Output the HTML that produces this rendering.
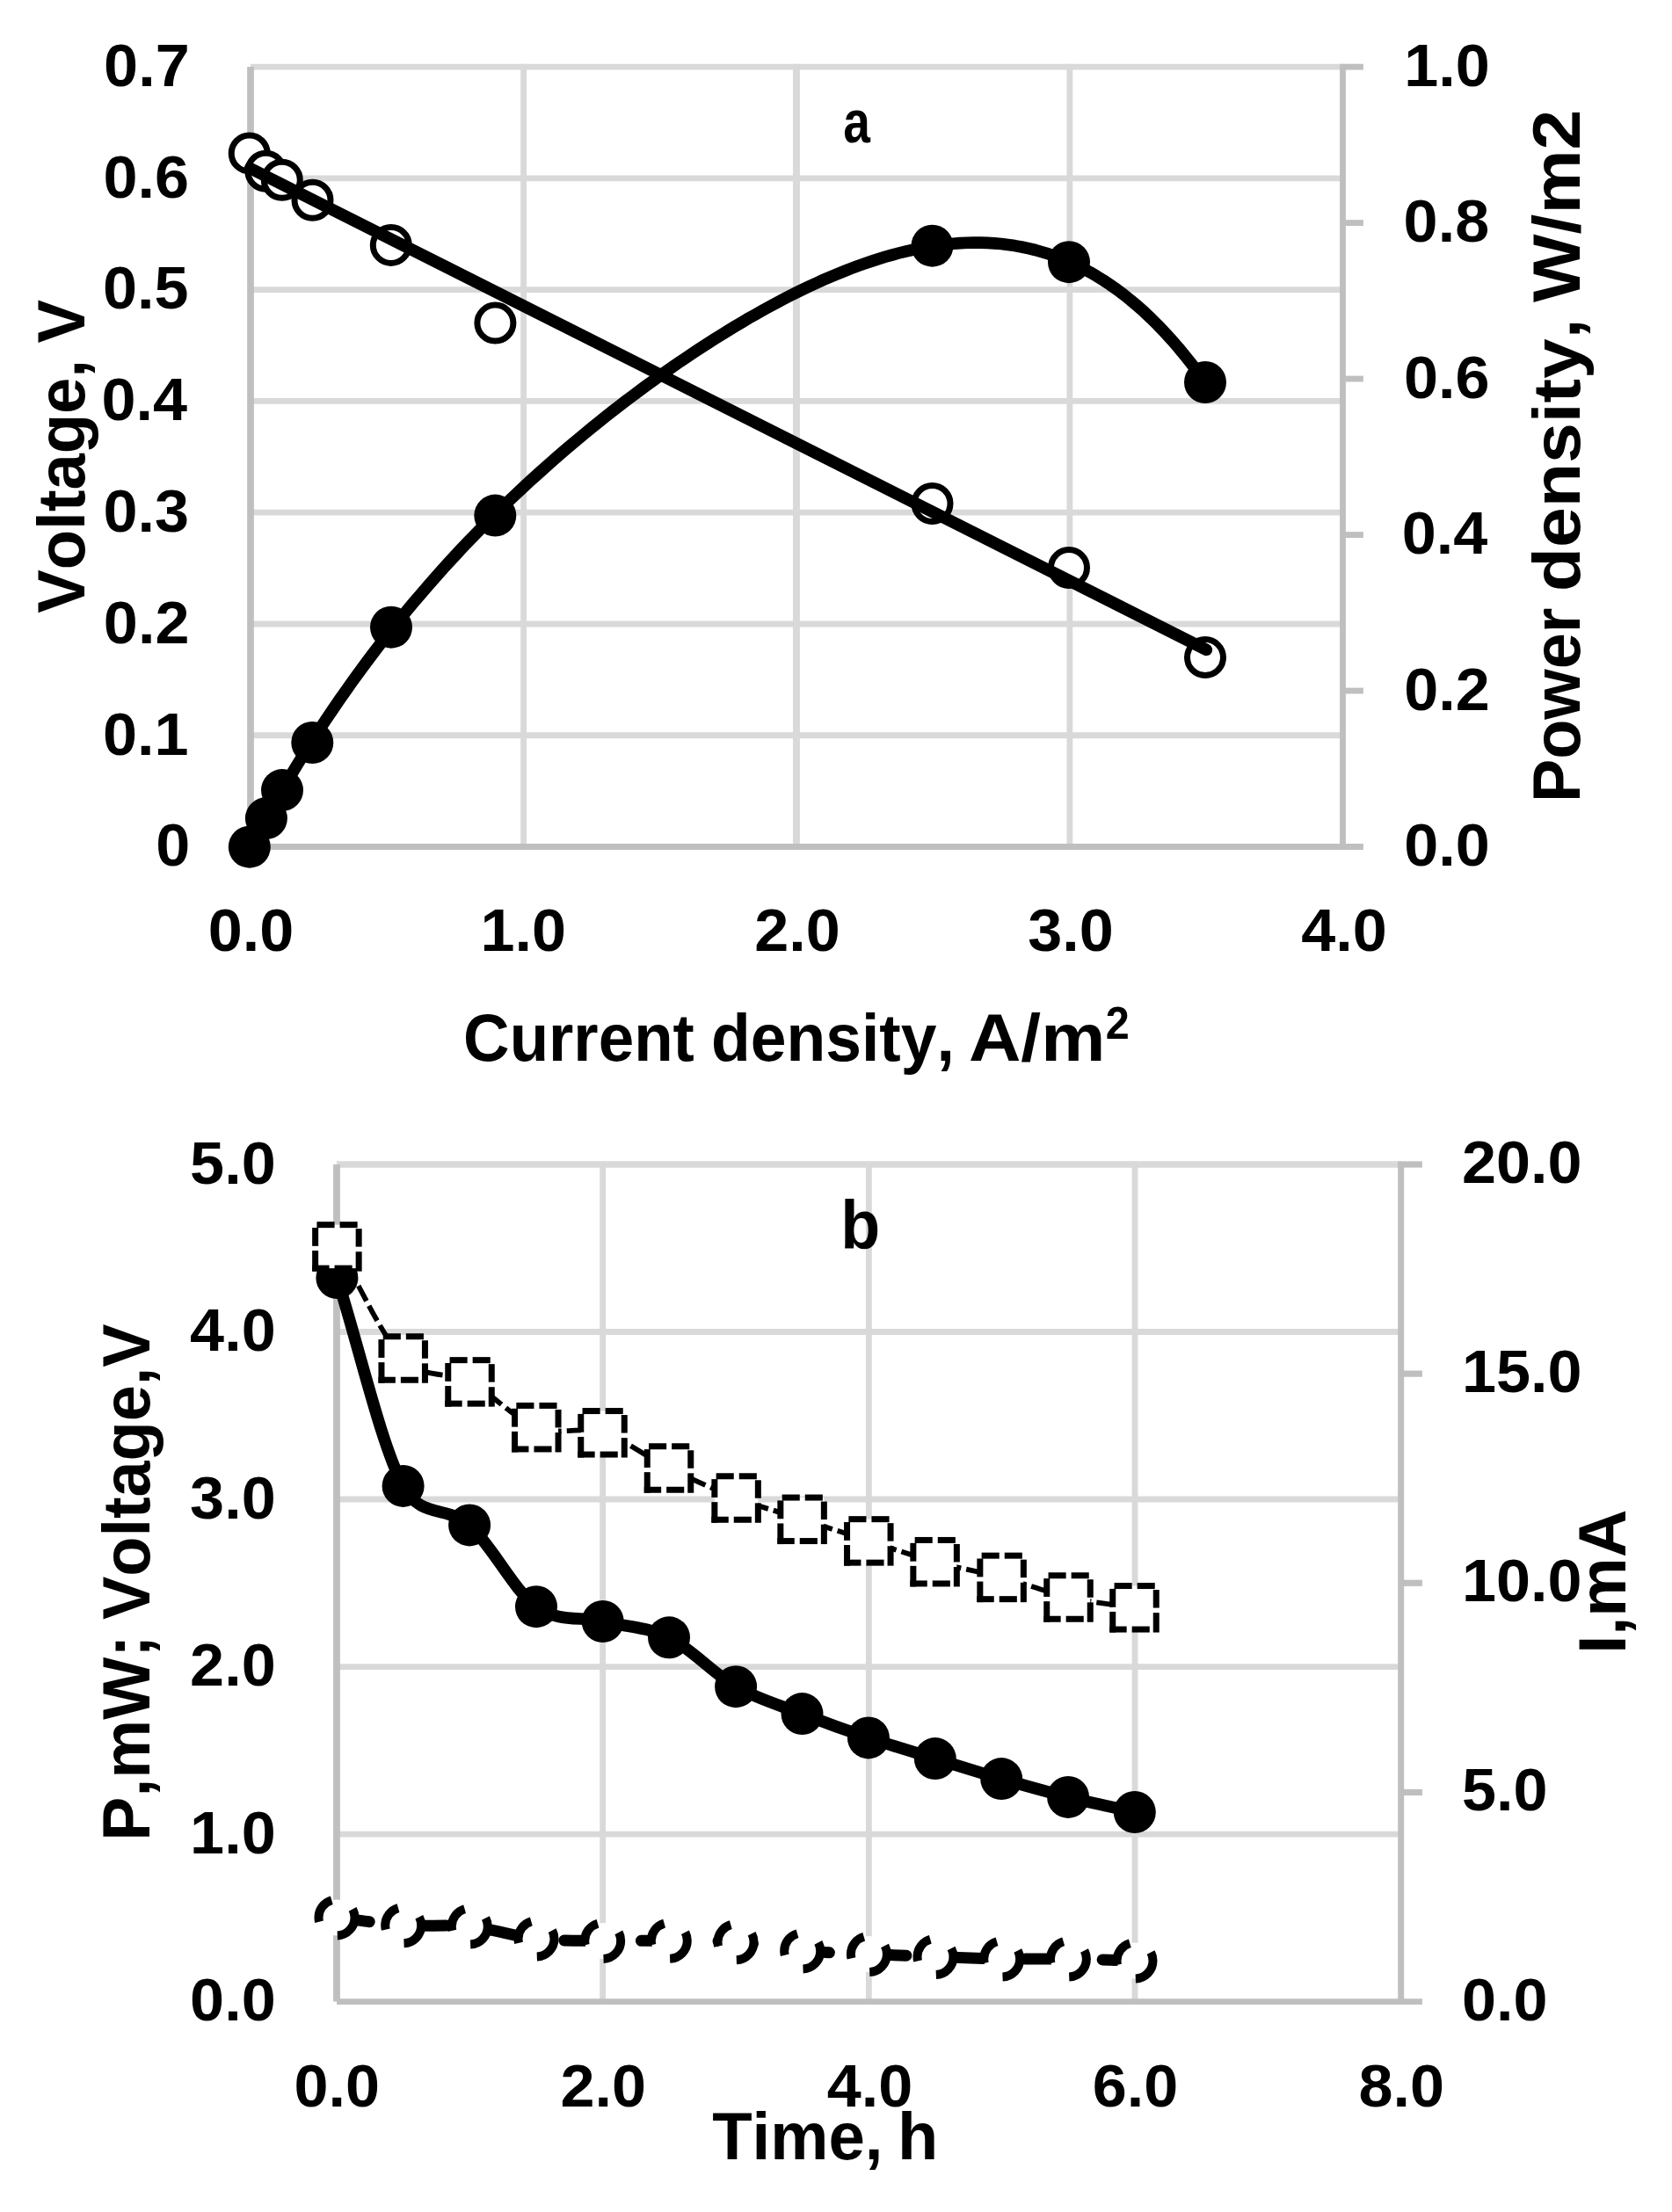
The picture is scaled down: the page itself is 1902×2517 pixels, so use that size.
<!DOCTYPE html>
<html><head><meta charset="utf-8"><title>Figure</title>
<style>html,body{margin:0;padding:0;background:#fff}svg{display:block}text{font-kerning:none;fill:#000}</style></head><body>
<svg width="1902" height="2517" viewBox="0 0 1902 2517" font-family="Liberation Sans, sans-serif" font-weight="bold">
<rect width="1902" height="2517" fill="#fff"/>
<g fill="none" stroke="#d9d9d9" stroke-width="6.84">
<path d="M285.00 836.73H1527.50"/>
<path d="M285.00 709.96H1527.50"/>
<path d="M285.00 583.19H1527.50"/>
<path d="M285.00 456.41H1527.50"/>
<path d="M285.00 329.64H1527.50"/>
<path d="M285.00 202.87H1527.50"/>
<path d="M285.00 76.10H1527.50"/>
<path d="M595.62 72.68V963.50" stroke-width="6.84"/>
<path d="M905.95 72.68V963.50" stroke-width="7.90"/>
<path d="M1216.88 72.68V963.50" stroke-width="6.84"/>
</g>
<g fill="none" stroke="#bfbfbf" stroke-width="6.84">
<path d="M285.00 76.10V963.50" stroke-width="7.7"/>
<path d="M285.00 963.50H1550.90"/>
<path d="M1527.50 76.10V963.50"/>
<path d="M1527.50 786.02H1550.90"/>
<path d="M1527.50 608.54H1550.90"/>
<path d="M1527.50 431.06H1550.90"/>
<path d="M1527.50 253.58H1550.90"/>
<path d="M1524.08 76.10H1550.90"/>
</g>
<path d="M285.0 963.0 L292.8 948.6 L300.5 934.5 L308.3 920.7 L316.0 907.2 L323.8 893.9 L331.6 880.9 L339.3 868.2 L347.1 855.7 L354.9 843.4 L362.6 831.4 L370.4 819.6 L378.1 808.1 L385.9 796.7 L393.7 785.6 L401.4 774.7 L409.2 763.9 L417.0 753.4 L424.7 743.1 L432.5 732.9 L440.2 722.9 L448.0 713.1 L455.8 703.5 L463.5 694.0 L471.3 684.7 L479.1 675.6 L486.8 666.6 L494.6 657.7 L502.3 649.0 L510.1 640.4 L517.9 632.0 L525.6 623.7 L533.4 615.5 L541.2 607.5 L548.9 599.5 L556.7 591.7 L564.4 584.0 L572.2 576.4 L580.0 568.9 L587.7 561.6 L595.5 554.3 L603.3 547.1 L611.0 540.1 L618.8 533.1 L626.5 526.2 L634.3 519.4 L642.1 512.7 L649.8 506.1 L657.6 499.6 L665.4 493.1 L673.1 486.8 L680.9 480.5 L688.6 474.3 L696.4 468.2 L704.2 462.2 L711.9 456.2 L719.7 450.3 L727.5 444.5 L735.2 438.8 L743.0 433.2 L750.7 427.6 L758.5 422.1 L766.3 416.7 L774.0 411.3 L781.8 406.1 L789.5 400.9 L797.3 395.8 L805.1 390.7 L812.8 385.8 L820.6 380.9 L828.4 376.1 L836.1 371.4 L843.9 366.8 L851.6 362.2 L859.4 357.8 L867.2 353.4 L874.9 349.1 L882.7 344.9 L890.5 340.8 L898.2 336.8 L906.0 332.9 L913.7 329.1 L921.5 325.4 L929.3 321.8 L937.0 318.3 L944.8 315.0 L952.6 311.7 L960.3 308.6 L968.1 305.5 L975.8 302.6 L983.6 299.9 L991.4 297.2 L999.1 294.7 L1006.9 292.3 L1014.7 290.1 L1022.4 288.0 L1030.2 286.1 L1037.9 284.3 L1045.7 282.7 L1053.5 281.3 L1061.2 280.0 L1069.0 278.9 L1076.8 277.9 L1084.5 277.2 L1092.3 276.6 L1100.0 276.3 L1107.8 276.1 L1115.6 276.1 L1123.3 276.4 L1131.1 276.9 L1138.9 277.5 L1146.6 278.5 L1154.4 279.6 L1162.1 281.0 L1169.9 282.7 L1177.7 284.5 L1185.4 286.7 L1193.2 289.1 L1201.0 291.8 L1208.7 294.8 L1216.5 298.1 L1224.2 301.6 L1232.0 305.5 L1239.8 309.7 L1247.5 314.2 L1255.3 319.0 L1263.0 324.1 L1270.8 329.6 L1278.6 335.5 L1286.3 341.7 L1294.1 348.3 L1301.9 355.2 L1309.6 362.5 L1317.4 370.3 L1325.1 378.4 L1332.9 386.9 L1340.7 395.9 L1348.4 405.3 L1356.2 415.1 L1364.0 425.4 L1371.7 436.1" fill="none" stroke="#000" stroke-width="13.6" stroke-linecap="round" stroke-linejoin="round"/>
<circle cx="283.8" cy="963.7" r="24" fill="#000"/>
<circle cx="302.9" cy="931.1" r="24" fill="#000"/>
<circle cx="321.0" cy="899.1" r="24" fill="#000"/>
<circle cx="355.3" cy="845.0" r="24" fill="#000"/>
<circle cx="445.0" cy="713.7" r="24" fill="#000"/>
<circle cx="563.3" cy="586.6" r="24" fill="#000"/>
<circle cx="1060.5" cy="279.7" r="24" fill="#000"/>
<circle cx="1216.0" cy="298.2" r="24" fill="#000"/>
<circle cx="1371.0" cy="435.0" r="24" fill="#000"/>
<circle cx="283.7" cy="174.4" r="20.5" fill="#fff" stroke="#000" stroke-width="7.0"/>
<circle cx="302.4" cy="194.7" r="20.5" fill="#fff" stroke="#000" stroke-width="7.0"/>
<circle cx="320.8" cy="204.7" r="20.5" fill="#fff" stroke="#000" stroke-width="7.0"/>
<circle cx="355.5" cy="227.8" r="20.5" fill="#fff" stroke="#000" stroke-width="7.0"/>
<circle cx="444.8" cy="278.9" r="20.5" fill="#fff" stroke="#000" stroke-width="7.0"/>
<circle cx="563.4" cy="367.6" r="20.5" fill="#fff" stroke="#000" stroke-width="7.0"/>
<circle cx="1060.5" cy="573.0" r="20.5" fill="#fff" stroke="#000" stroke-width="7.0"/>
<circle cx="1216.0" cy="646.0" r="20.5" fill="#fff" stroke="#000" stroke-width="7.0"/>
<circle cx="1371.0" cy="748.1" r="20.5" fill="#fff" stroke="#000" stroke-width="7.0"/>
<path d="M284.6 191.5L1372.3 739.3" fill="none" stroke="#000" stroke-width="13.7" stroke-linecap="round"/>
<text x="117.00" y="858.57" font-size="69.00" textLength="97.55" lengthAdjust="spacingAndGlyphs" >0.1</text>
<text x="117.86" y="731.80" font-size="69.00" textLength="97.55" lengthAdjust="spacingAndGlyphs" >0.2</text>
<text x="117.59" y="605.03" font-size="69.00" textLength="97.55" lengthAdjust="spacingAndGlyphs" >0.3</text>
<text x="115.43" y="478.26" font-size="69.00" textLength="97.55" lengthAdjust="spacingAndGlyphs" >0.4</text>
<text x="117.00" y="351.49" font-size="69.00" textLength="97.55" lengthAdjust="spacingAndGlyphs" >0.5</text>
<text x="117.59" y="224.71" font-size="69.00" textLength="97.55" lengthAdjust="spacingAndGlyphs" >0.6</text>
<text x="118.13" y="97.94" font-size="69.00" textLength="97.55" lengthAdjust="spacingAndGlyphs" >0.7</text>
<text x="177.25" y="985.24" font-size="69.00" textLength="39.03" lengthAdjust="spacingAndGlyphs" >0</text>
<text x="1597.33" y="985.34" font-size="69.00" textLength="97.55" lengthAdjust="spacingAndGlyphs" >0.0</text>
<text x="1597.26" y="807.86" font-size="69.00" textLength="97.55" lengthAdjust="spacingAndGlyphs" >0.2</text>
<text x="1594.83" y="630.38" font-size="69.00" textLength="97.55" lengthAdjust="spacingAndGlyphs" >0.4</text>
<text x="1596.99" y="452.90" font-size="69.00" textLength="97.55" lengthAdjust="spacingAndGlyphs" >0.6</text>
<text x="1596.61" y="275.42" font-size="69.00" textLength="97.55" lengthAdjust="spacingAndGlyphs" >0.8</text>
<text x="1597.33" y="97.94" font-size="69.00" textLength="97.55" lengthAdjust="spacingAndGlyphs" >1.0</text>
<text x="236.78" y="1082.14" font-size="69.00" textLength="97.55" lengthAdjust="spacingAndGlyphs" >0.0</text>
<text x="546.58" y="1082.14" font-size="69.00" textLength="97.55" lengthAdjust="spacingAndGlyphs" >1.0</text>
<text x="858.20" y="1082.14" font-size="69.00" textLength="97.55" lengthAdjust="spacingAndGlyphs" >2.0</text>
<text x="1169.23" y="1082.14" font-size="69.00" textLength="97.55" lengthAdjust="spacingAndGlyphs" >3.0</text>
<text x="1480.13" y="1082.14" font-size="69.00" textLength="97.55" lengthAdjust="spacingAndGlyphs" >4.0</text>
<text transform="translate(95.90 697.71) rotate(-90)" font-size="76.80" textLength="288.67" lengthAdjust="spacingAndGlyphs">Voltage,</text>
<text transform="translate(95.90 390.61) rotate(-90)" font-size="76.80" textLength="49.41" lengthAdjust="spacingAndGlyphs">V</text>
<text transform="translate(1797.40 912.94) rotate(-90)" font-size="76.80" textLength="221.45" lengthAdjust="spacingAndGlyphs">Power</text>
<text transform="translate(1797.40 673.37) rotate(-90)" font-size="76.80" textLength="310.88" lengthAdjust="spacingAndGlyphs">density,</text>
<text transform="translate(1797.40 344.08) rotate(-90)" font-size="76.80" textLength="219.37" lengthAdjust="spacingAndGlyphs">W/m2</text>
<text x="527.12" y="1207.00" font-size="76.80" textLength="262.67" lengthAdjust="spacingAndGlyphs" >Current</text>
<text x="808.89" y="1207.00" font-size="76.80" textLength="277.01" lengthAdjust="spacingAndGlyphs" >density,</text>
<text x="1101.95" y="1207.00" font-size="76.80" textLength="155.45" lengthAdjust="spacingAndGlyphs" >A/m</text>
<text x="1257.82" y="1181.90" font-size="51.40" textLength="27.03" lengthAdjust="spacingAndGlyphs" >2</text>
<text x="959.18" y="161.60" font-size="68.00" textLength="30.67" lengthAdjust="spacingAndGlyphs" >a</text>
<g fill="none" stroke="#d9d9d9" stroke-width="6.84">
<path d="M383.00 2087.08H1593.70"/>
<path d="M383.00 1896.56H1593.70"/>
<path d="M383.00 1706.04H1593.70"/>
<path d="M383.00 1515.52H1593.70"/>
<path d="M383.00 1325.00H1593.70" stroke-width="7.6"/>
<path d="M685.67 1321.58V2277.60"/>
<path d="M988.35 1321.58V2277.60"/>
<path d="M1291.03 1321.58V2277.60"/>
</g>
<g fill="none" stroke="#bfbfbf" stroke-width="6.84">
<path d="M383.00 1325.00V2277.60" stroke-width="7.8"/>
<path d="M383.00 2277.60H1617.90"/>
<path d="M1593.70 1325.00V2277.60" stroke-width="7.0"/>
<path d="M1593.70 2039.45H1617.90" stroke-width="7.2"/>
<path d="M1593.70 1801.30H1617.90" stroke-width="7.2"/>
<path d="M1593.70 1563.15H1617.90" stroke-width="7.2"/>
<path d="M1590.20 1325.00H1617.90" stroke-width="7.2"/>
</g>
<path d="M383.40 1454.00 C408.47 1532.97 433.48 1644.00 458.60 1690.90 C479.29 1729.53 508.87 1712.52 534.10 1735.40 C559.33 1758.28 584.73 1809.93 610.00 1828.20 C635.27 1846.47 660.53 1839.15 685.70 1845.00 C710.87 1850.85 735.77 1850.93 761.00 1863.30 C786.23 1875.67 811.85 1904.73 837.10 1919.20 C862.35 1933.67 887.37 1940.40 912.50 1950.10 C937.63 1959.80 962.68 1968.90 987.90 1977.40 C1013.12 1985.90 1038.58 1993.32 1063.80 2001.10 C1089.02 2008.88 1113.98 2016.80 1139.20 2024.10 C1164.42 2031.40 1189.83 2038.58 1215.10 2044.90 C1240.37 2051.22 1265.57 2056.30 1290.80 2062.00" fill="none" stroke="#000" stroke-width="13.6" stroke-linecap="round" stroke-linejoin="round"/>
<circle cx="383.4" cy="1454.0" r="24" fill="#000"/>
<circle cx="458.6" cy="1690.9" r="24" fill="#000"/>
<circle cx="534.1" cy="1735.4" r="24" fill="#000"/>
<circle cx="610.0" cy="1828.2" r="24" fill="#000"/>
<circle cx="685.7" cy="1845.0" r="24" fill="#000"/>
<circle cx="761.0" cy="1863.3" r="24" fill="#000"/>
<circle cx="837.1" cy="1919.2" r="24" fill="#000"/>
<circle cx="912.5" cy="1950.1" r="24" fill="#000"/>
<circle cx="987.9" cy="1977.4" r="24" fill="#000"/>
<circle cx="1063.8" cy="2001.1" r="24" fill="#000"/>
<circle cx="1139.2" cy="2024.1" r="24" fill="#000"/>
<circle cx="1215.1" cy="2044.9" r="24" fill="#000"/>
<circle cx="1290.8" cy="2062.0" r="24" fill="#000"/>
<path d="M383.00 2181.90 C408.22 2184.87 433.45 2189.12 458.67 2190.80 C483.89 2192.48 509.11 2189.45 534.34 2192.00 C559.56 2194.55 584.78 2203.37 610.01 2206.10 C635.23 2208.83 660.45 2208.03 685.67 2208.40 C710.90 2208.77 736.12 2208.07 761.34 2208.30 C786.57 2208.53 811.79 2207.87 837.01 2209.80 C862.24 2211.73 887.46 2217.62 912.68 2219.90 C937.90 2222.18 963.13 2222.40 988.35 2223.50 C1013.57 2224.60 1038.80 2225.58 1064.02 2226.50 C1089.24 2227.42 1114.46 2228.58 1139.69 2229.00 C1164.91 2229.42 1190.13 2228.67 1215.36 2229.00 C1240.58 2229.33 1265.80 2230.33 1291.03 2231.00" fill="none" stroke="#000" stroke-width="13" stroke-linecap="round" stroke-dasharray="39.5 48.1" stroke-dashoffset="2"/>
<circle cx="383.0" cy="2181.9" r="20.5" fill="#fff" stroke="#000" stroke-width="10" stroke-dasharray="31.13 27.91 31.13 27.91 10.73 0"/>
<circle cx="458.7" cy="2190.8" r="20.5" fill="#fff" stroke="#000" stroke-width="10" stroke-dasharray="31.13 27.91 31.13 27.91 10.73 0"/>
<circle cx="534.3" cy="2192.0" r="20.5" fill="#fff" stroke="#000" stroke-width="10" stroke-dasharray="31.13 27.91 31.13 27.91 10.73 0"/>
<circle cx="610.0" cy="2206.1" r="20.5" fill="#fff" stroke="#000" stroke-width="10" stroke-dasharray="31.13 27.91 31.13 27.91 10.73 0"/>
<circle cx="685.7" cy="2208.4" r="20.5" fill="#fff" stroke="#000" stroke-width="10" stroke-dasharray="31.13 27.91 31.13 27.91 10.73 0"/>
<circle cx="761.3" cy="2208.3" r="20.5" fill="#fff" stroke="#000" stroke-width="10" stroke-dasharray="31.13 27.91 31.13 27.91 10.73 0"/>
<circle cx="837.0" cy="2209.8" r="20.5" fill="#fff" stroke="#000" stroke-width="10" stroke-dasharray="31.13 27.91 31.13 27.91 10.73 0"/>
<circle cx="912.7" cy="2219.9" r="20.5" fill="#fff" stroke="#000" stroke-width="10" stroke-dasharray="31.13 27.91 31.13 27.91 10.73 0"/>
<circle cx="988.4" cy="2223.5" r="20.5" fill="#fff" stroke="#000" stroke-width="10" stroke-dasharray="31.13 27.91 31.13 27.91 10.73 0"/>
<circle cx="1064.0" cy="2226.5" r="20.5" fill="#fff" stroke="#000" stroke-width="10" stroke-dasharray="31.13 27.91 31.13 27.91 10.73 0"/>
<circle cx="1139.7" cy="2229.0" r="20.5" fill="#fff" stroke="#000" stroke-width="10" stroke-dasharray="31.13 27.91 31.13 27.91 10.73 0"/>
<circle cx="1215.4" cy="2229.0" r="20.5" fill="#fff" stroke="#000" stroke-width="10" stroke-dasharray="31.13 27.91 31.13 27.91 10.73 0"/>
<circle cx="1291.0" cy="2231.0" r="20.5" fill="#fff" stroke="#000" stroke-width="10" stroke-dasharray="31.13 27.91 31.13 27.91 10.73 0"/>
<path d="M383.40 1418.40 C408.50 1460.77 433.52 1519.83 458.70 1545.50 C483.88 1571.17 509.23 1559.28 534.50 1572.40 C559.77 1585.52 585.13 1614.55 610.30 1624.20 C635.47 1633.85 660.38 1622.58 685.50 1630.30 C710.62 1638.02 735.65 1658.13 761.00 1670.50 C786.35 1682.87 812.33 1694.78 837.60 1704.50 C862.87 1714.22 887.48 1720.65 912.60 1728.80 C937.72 1736.95 963.13 1745.33 988.30 1753.40 C1013.47 1761.47 1038.38 1770.28 1063.60 1777.20 C1088.82 1784.12 1114.28 1788.18 1139.60 1794.90 C1164.92 1801.62 1190.35 1811.77 1215.50 1817.50 C1240.65 1823.23 1265.50 1825.37 1290.50 1829.30" fill="none" stroke="#000" stroke-width="5.8" stroke-dasharray="19.4 6.1"/>
<defs><g id="sq"><rect x="-24.75" y="-24.75" width="49.50" height="49.50" fill="#fff"/><g fill="#000"><rect x="-22.95" y="-28.25" width="20.1" height="7.0"/><rect x="3.15" y="-28.25" width="20.1" height="7.0"/><rect x="21.25" y="-20.25" width="7.0" height="20.5"/><rect x="21.25" y="5.85" width="7.0" height="22.40"/><rect x="-2.85" y="21.25" width="20.1" height="7.0"/><rect x="-28.25" y="21.25" width="19.40" height="7.0"/><rect x="-28.25" y="-21.40" width="7.0" height="20.85"/><rect x="-28.25" y="4.65" width="7.0" height="23.60"/></g></g></defs>
<use href="#sq" x="383.4" y="1418.4"/>
<use href="#sq" x="458.7" y="1545.5"/>
<use href="#sq" x="534.5" y="1572.4"/>
<use href="#sq" x="610.3" y="1624.2"/>
<use href="#sq" x="685.5" y="1630.3"/>
<use href="#sq" x="761.0" y="1670.5"/>
<use href="#sq" x="837.6" y="1704.5"/>
<use href="#sq" x="912.6" y="1728.8"/>
<use href="#sq" x="988.3" y="1753.4"/>
<use href="#sq" x="1063.6" y="1777.2"/>
<use href="#sq" x="1139.6" y="1794.9"/>
<use href="#sq" x="1215.5" y="1817.5"/>
<use href="#sq" x="1290.5" y="1829.3"/>
<text x="216.13" y="2299.14" font-size="69.00" textLength="97.55" lengthAdjust="spacingAndGlyphs" >0.0</text>
<text x="216.13" y="2108.62" font-size="69.00" textLength="97.55" lengthAdjust="spacingAndGlyphs" >1.0</text>
<text x="216.13" y="1918.10" font-size="69.00" textLength="97.55" lengthAdjust="spacingAndGlyphs" >2.0</text>
<text x="216.13" y="1727.58" font-size="69.00" textLength="97.55" lengthAdjust="spacingAndGlyphs" >3.0</text>
<text x="216.13" y="1537.06" font-size="69.00" textLength="97.55" lengthAdjust="spacingAndGlyphs" >4.0</text>
<text x="216.13" y="1346.54" font-size="69.00" textLength="97.55" lengthAdjust="spacingAndGlyphs" >5.0</text>
<text x="1663.00" y="2298.54" font-size="69.00" textLength="97.55" lengthAdjust="spacingAndGlyphs" >0.0</text>
<text x="1663.00" y="2060.39" font-size="69.00" textLength="97.55" lengthAdjust="spacingAndGlyphs" >5.0</text>
<text x="1663.00" y="1822.24" font-size="69.00" textLength="136.58" lengthAdjust="spacingAndGlyphs" >10.0</text>
<text x="1663.00" y="1584.09" font-size="69.00" textLength="136.58" lengthAdjust="spacingAndGlyphs" >15.0</text>
<text x="1663.00" y="1345.94" font-size="69.00" textLength="136.58" lengthAdjust="spacingAndGlyphs" >20.0</text>
<text x="334.58" y="2397.04" font-size="69.00" textLength="97.55" lengthAdjust="spacingAndGlyphs" >0.0</text>
<text x="637.42" y="2397.04" font-size="69.00" textLength="97.55" lengthAdjust="spacingAndGlyphs" >2.0</text>
<text x="940.78" y="2397.04" font-size="69.00" textLength="97.55" lengthAdjust="spacingAndGlyphs" >4.0</text>
<text x="1242.70" y="2397.04" font-size="69.00" textLength="97.55" lengthAdjust="spacingAndGlyphs" >6.0</text>
<text x="1545.55" y="2397.04" font-size="69.00" textLength="97.55" lengthAdjust="spacingAndGlyphs" >8.0</text>
<text transform="translate(170.10 2094.73) rotate(-90)" font-size="76.80" textLength="234.10" lengthAdjust="spacingAndGlyphs">P,mW;</text>
<text transform="translate(170.10 1842.90) rotate(-90)" font-size="76.80" textLength="336.31" lengthAdjust="spacingAndGlyphs">Voltage,V</text>
<text transform="translate(1849.00 1881.87) rotate(-90)" font-size="76.80" textLength="164.37" lengthAdjust="spacingAndGlyphs">I,mA</text>
<text x="810.16" y="2457.40" font-size="76.80" textLength="194.31" lengthAdjust="spacingAndGlyphs" >Time,</text>
<text x="1021.01" y="2457.40" font-size="76.80" textLength="46.29" lengthAdjust="spacingAndGlyphs" >h</text>
<text x="956.15" y="1421.40" font-size="77.00" textLength="44.97" lengthAdjust="spacingAndGlyphs" >b</text>
</svg></body></html>
